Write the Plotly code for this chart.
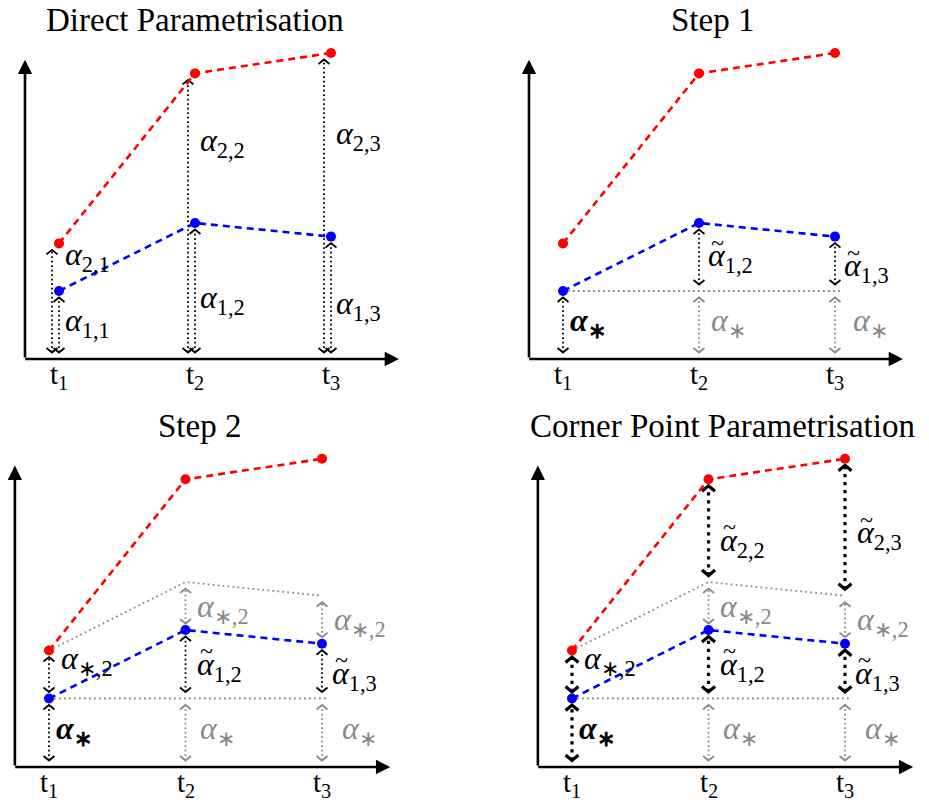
import plotly.graph_objects as go

# ---------------- data ----------------
T = [1, 2, 3]
TICK_LABELS = ["t<sub>1</sub>", "t<sub>2</sub>", "t<sub>3</sub>"]
BLUE = [1.0, 2.0, 1.8]      # lower corner points
RED = [1.7, 4.2, 4.5]       # upper corner points
TITLES = ["Direct Parametrisation", "Step 1", "Step 2", "Corner Point Parametrisation"]

ALPHA_STAR = BLUE[0]
DELTA = RED[0] - BLUE[0]
UPPER_GRAY = [RED[0], BLUE[1] + DELTA, BLUE[2] + DELTA]

# ---------------- layout helpers ----------------
W, H = 929, 800
FONT = "Liberation Serif"
# pixel placement of each panel: x of t1, y of baseline, px per t-unit, px per value-unit
PANELS = [(59, 359, 136, 68), (563, 359, 136, 68), (49, 767, 136.5, 68.5), (572, 767, 136.5, 68.5)]
XR = [0.7, 3.6]
YR = [-0.45, 5.25]
GRAY = "#8a8a8a"
LSIZE = 32

fig = go.Figure()


def axn(k):
    return ("x" if k == 0 else f"x{k+1}", "y" if k == 0 else f"y{k+1}")


def line(k, xs, ys, color, width, dash):
    xa, ya = axn(k)
    fig.add_trace(go.Scatter(x=xs, y=ys, mode="lines", xaxis=xa, yaxis=ya,
                             line=dict(color=color, width=width, dash=dash),
                             showlegend=False, hoverinfo="skip"))


def chevron(k, x, y, up, color, width):
    _, _, sx, sy = PANELS[k]
    w = (5.5 if width < 2.5 else 6.5) / sx
    h = (4.5 if width < 2.5 else 5.5) / sy
    s = 1 if up else -1
    line(k, [x - w, x, x + w], [y - s * h, y, y - s * h], color, width, "solid")


def darrow(k, x, ylo, yhi, color, width=1.8):
    _, _, sx, sy = PANELS[k]
    g = 6.5 / sy
    y0, y1 = ylo + g, yhi - g
    dash = f"{width:.1f}px,{width*1.5:.1f}px"
    line(k, [x, x], [y0, y1], color, width, dash)
    chevron(k, x, y0, False, color, width)
    chevron(k, x, y1, True, color, width)


def label(k, x, y, text, color="black", tilde=False):
    xa, ya = axn(k)
    fig.add_annotation(x=x, y=y, xref=xa, yref=ya, text=text, showarrow=False,
                       xanchor="left", yanchor="middle",
                       font=dict(family=FONT, size=LSIZE, color=color))
    if tilde:
        fig.add_annotation(x=x, y=y, xref=xa, yref=ya, text="~", showarrow=False,
                           xanchor="left", yanchor="middle", xshift=3, yshift=15,
                           font=dict(family=FONT, size=24, color=color))


def al(sub):
    return f"<i>α</i><sub>{sub}</sub>"


STAR = "∗"
ASTAR_B = f"<b><i>α</i><sub>{STAR}</sub></b>"

for k in range(4):
    t1x, base, sx, sy = PANELS[k]
    xa, ya = axn(k)
    sfx = "" if k == 0 else str(k + 1)
    fig.layout[f"xaxis{sfx}"] = dict(
        domain=[(t1x + (XR[0] - 1) * sx) / W, (t1x + (XR[1] - 1) * sx) / W],
        range=XR, visible=False, anchor=ya, fixedrange=True)
    fig.layout[f"yaxis{sfx}"] = dict(
        domain=[1 - (base - YR[0] * sy) / H, 1 - (base - YR[1] * sy) / H],
        range=YR, visible=False, anchor=xa, fixedrange=True)

    # axes arrows
    fig.add_annotation(x=3.5, y=0, ax=0.75 - 1.2 / sx, ay=0, xref=xa, yref=ya, axref=xa, ayref=ya,
                       showarrow=True, arrowhead=2, arrowsize=1.1, arrowwidth=2.6, arrowcolor="black", text="")
    fig.add_annotation(x=0.75, y=4.4, ax=0.75, ay=0, xref=xa, yref=ya, axref=xa, ayref=ya,
                       showarrow=True, arrowhead=2, arrowsize=1.1, arrowwidth=2.6, arrowcolor="black", text="")
    # tick labels
    for t, tl in zip(T, TICK_LABELS):
        fig.add_annotation(x=t, y=-0.25, xref=xa, yref=ya, text=tl, showarrow=False,
                           xanchor="center", yanchor="middle", borderpad=0,
                           font=dict(family=FONT, size=29, color="black"))
    # title
    fig.add_annotation(x=2.0 if k == 0 else 2.1, y=4.98, xref=xa, yref=ya, text=TITLES[k],
                       showarrow=False, xanchor="center", yanchor="middle",
                       font=dict(family=FONT, size=33, color="black"))

    off = 7 / sx
    if k == 0:
        for i, t in enumerate(T):
            darrow(k, t - off, 0, RED[i], "black")
            darrow(k, t, 0, BLUE[i], "black")
        label(k, 1.03, 1.5, al("2,1"))
        label(k, 1.03, 0.53, al("1,1"))
        label(k, 2.02, 3.19, al("2,2"))
        label(k, 2.02, 0.87, al("1,2"))
        label(k, 3.02, 3.29, al("2,3"))
        label(k, 3.02, 0.79, al("1,3"))
    else:
        bw = 3.2 if k == 3 else 1.8
        # gray helper lines
        line(k, [T[0], T[2] + off], [ALPHA_STAR, ALPHA_STAR], GRAY, 1.8, "1.8px,3.2px")
        if k >= 2:
            line(k, T, UPPER_GRAY, GRAY, 1.8, "1.8px,3.2px")
        darrow(k, T[0], 0, ALPHA_STAR, "black", bw)
        for i in (1, 2):
            darrow(k, T[i], 0, ALPHA_STAR, GRAY, 1.8)
            darrow(k, T[i], ALPHA_STAR, BLUE[i], "black", bw)
        if k >= 2:
            darrow(k, T[0], BLUE[0], RED[0], "black", bw)
            for i in (1, 2):
                darrow(k, T[i], BLUE[i], BLUE[i] + DELTA, GRAY, 1.8)
        if k == 3:
            for i in (1, 2):
                darrow(k, T[i], BLUE[i] + DELTA, RED[i], "black", bw)

        label(k, 1.04, 0.54, ASTAR_B)
        if k == 1:
            label(k, 2.05, 1.49, al("1,2"), tilde=True)
            label(k, 3.05, 1.34, al("1,3"), tilde=True)
            label(k, 2.07, 0.53, al(STAR), GRAY)
            label(k, 3.12, 0.53, al(STAR), GRAY)
        else:
            label(k, 1.07, 1.56, al(STAR + ",2"))
            label(k, 2.07, 1.47, al("1,2"), tilde=True)
            label(k, 3.06, 1.34, al("1,3"), tilde=True)
            label(k, 2.07, 2.32, al(STAR + ",2"), GRAY)
            label(k, 3.07, 2.12, al(STAR + ",2"), GRAY)
            label(k, 2.09, 0.54, al(STAR), GRAY)
            label(k, 3.13, 0.54, al(STAR), GRAY)
            if k == 3:
                label(k, 2.07, 3.28, al("2,2"), tilde=True)
                label(k, 3.07, 3.39, al("2,3"), tilde=True)

    # the two corner-point series
    for vals, col in ((RED, "#ff0000"), (BLUE, "#0000ff")):
        fig.add_trace(go.Scatter(x=T, y=vals, mode="lines+markers", xaxis=xa, yaxis=ya,
                                 line=dict(color=col, width=2.6, dash="7px,5px"),
                                 marker=dict(color=col, size=10),
                                 showlegend=False, hoverinfo="skip"))

fig.update_layout(width=W, height=H, margin=dict(l=0, r=0, t=0, b=0),
                  paper_bgcolor="white", plot_bgcolor="rgba(0,0,0,0)",
                  font=dict(family=FONT))
fig.write_html("out.html", config={"displayModeBar": False, "staticPlot": True},
               post_script="document.body.style.margin='0';")
